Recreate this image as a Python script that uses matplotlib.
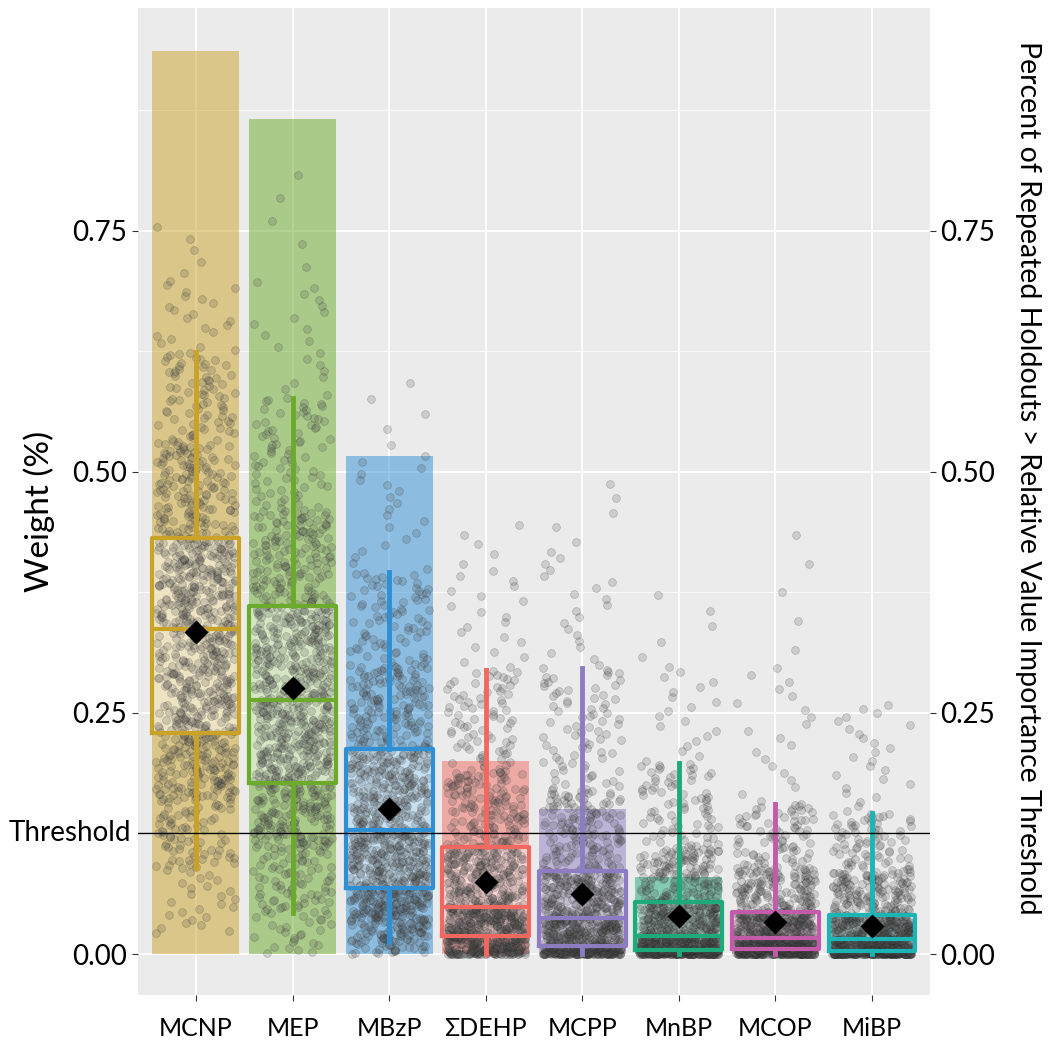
import numpy as np
import matplotlib
matplotlib.use("Agg")
import matplotlib.pyplot as plt

plt.rcParams['font.family'] = ['Lato', 'DejaVu Sans']

# values
labels = ['MCNP', 'MEP', 'MBzP', 'ΣDEHP', 'MCPP', 'MnBP', 'MCOP', 'MiBP']
colors = ['#C9A227', '#6BAA2B', '#2E8FD4', '#F0685F', '#8E7CC3', '#1EAA7A', '#C45BAA', '#1BB5B5']
pct_above = [0.936, 0.866, 0.516, 0.200, 0.150, 0.080, 0.030, 0.025]
means = [0.334, 0.276, 0.150, 0.075, 0.062, 0.039, 0.033, 0.029]
whislo = [0.089, 0.0425, 0.012, 0.0, 0.0, 0.0, 0.0, 0.0]
q1 = [0.229, 0.177, 0.0685, 0.0187, 0.0083, 0.004, 0.005, 0.003]
med = [0.337, 0.2635, 0.1286, 0.0488, 0.0373, 0.0187, 0.0166, 0.0156]
q3 = [0.4315, 0.361, 0.2127, 0.111, 0.086, 0.054, 0.0436, 0.040]
whishi = [0.624, 0.577, 0.396, 0.2946, 0.297, 0.198, 0.1556, 0.146]
# extra read-off quantiles of the point clouds (10%, 90%, 99.5%, min, max)
p10 = [0.16, 0.11, 0.035, 0.004, 0.001, 0.0005, 0.0005, 0.0003]
p90 = [0.53, 0.46, 0.30, 0.19, 0.17, 0.11, 0.09, 0.085]
p995 = [0.70, 0.70, 0.52, 0.40, 0.42, 0.30, 0.30, 0.24]
mins = [0.02, 0.0, 0.0, 0.0, 0.0, 0.0, 0.0, 0.0]
maxs = [0.76, 0.82, 0.60, 0.45, 0.495, 0.38, 0.45, 0.26]
threshold = 0.1255
n_holdouts = 1000

probs = [0, 0.025, 0.10, 0.25, 0.5, 0.75, 0.90, 0.975, 0.995, 1.0]


def lighten(c, f):
    rgb = np.array(matplotlib.colors.to_rgb(c))
    return tuple(rgb + (1 - rgb) * f)


fig = plt.figure(figsize=(10.5, 10.45), dpi=100)
ax = fig.add_axes([0.1314, 0.0478, 0.7543, 0.9445])
ax.set_facecolor('#EBEBEB')
for s in ax.spines.values():
    s.set_visible(False)

xs = np.arange(1, len(labels) + 1)

# bars: percent of holdouts above threshold
ax.bar(xs, pct_above, width=0.9, color=colors, alpha=0.5, zorder=1, linewidth=0)

stats = []
for i in range(len(labels)):
    stats.append(dict(whislo=whislo[i], q1=q1[i], med=med[i], q3=q3[i], whishi=whishi[i], fliers=[]))

# box fills
for i, x in enumerate(xs):
    ax.add_patch(plt.Rectangle((x - 0.45, q1[i]), 0.9, q3[i] - q1[i],
                               facecolor=lighten(colors[i], 0.82), alpha=0.75,
                               edgecolor='none', zorder=2))

# holdout weights placed at the read quantiles, with a hashed horizontal jitter
k = np.arange(n_holdouts)
pk = (k + 0.5) / n_holdouts
for i, x in enumerate(xs):
    qv = [mins[i], whislo[i], p10[i], q1[i], med[i], q3[i], p90[i], whishi[i], p995[i], maxs[i]]
    yv = np.interp(pk, probs, qv)
    jit = np.sin(k * 12.9898 + i * 78.233) * 43758.5453
    jit = jit - np.floor(jit)
    ax.scatter(x + (jit - 0.5) * 0.82, yv, s=32, facecolor='#505050', edgecolor='#202020',
               alpha=0.2, linewidths=0.6, zorder=3)

for i, x in enumerate(xs):
    c = colors[i]
    ax.bxp([stats[i]], positions=[x], widths=0.9, showcaps=False, showfliers=False,
           boxprops=dict(color=c, linewidth=3),
           whiskerprops=dict(color=c, linewidth=3.5),
           medianprops=dict(color=c, linewidth=3),
           manage_ticks=False, zorder=4)

ax.scatter(xs, means, marker='D', s=150, color='black', zorder=5, linewidths=0)

ax.axhline(threshold, color='black', linewidth=1, zorder=6)
ax.text(-0.0085, threshold, 'Threshold', transform=ax.get_yaxis_transform(),
        ha='right', va='center', fontsize=20)

ax.set_xlim(0.4, 8.6)
ax.set_ylim(-0.0425, 0.981)
ax.set_yticks([0, 0.25, 0.5, 0.75])
ax.set_yticklabels(['0.00', '0.25', '0.50', '0.75'], fontsize=20)
ax.set_yticks([0.125, 0.375, 0.625, 0.875], minor=True)
ax.set_xticks(xs)
ax.set_xticklabels(labels, fontsize=18)
ax.tick_params(axis='both', which='major', length=4, color='#333333', pad=4)
ax.tick_params(axis='x', pad=12)
ax.tick_params(axis='y', which='minor', length=0)
ax.grid(True, which='major', color='white', linewidth=1.3)
ax.grid(True, which='minor', axis='y', color='white', linewidth=0.6)
ax.set_axisbelow(True)
ax.set_ylabel('Weight (%)', fontsize=24)
ax.yaxis.set_label_coords(-0.105, 0.49)

ax2 = ax.twinx()
ax2.set_ylim(ax.get_ylim())
ax2.set_yticks([0, 0.25, 0.5, 0.75])
ax2.set_yticklabels(['0.00', '0.25', '0.50', '0.75'], fontsize=20)
ax2.tick_params(axis='y', length=4, color='#333333')
for s in ax2.spines.values():
    s.set_visible(False)
ax2.set_ylabel('Percent of Repeated Holdouts > Relative Value Importance Threshold',
               rotation=270, va='center', fontsize=20.5)
ax2.yaxis.set_label_coords(1.124, 0.524)

fig.savefig('out.png', dpi=100)
